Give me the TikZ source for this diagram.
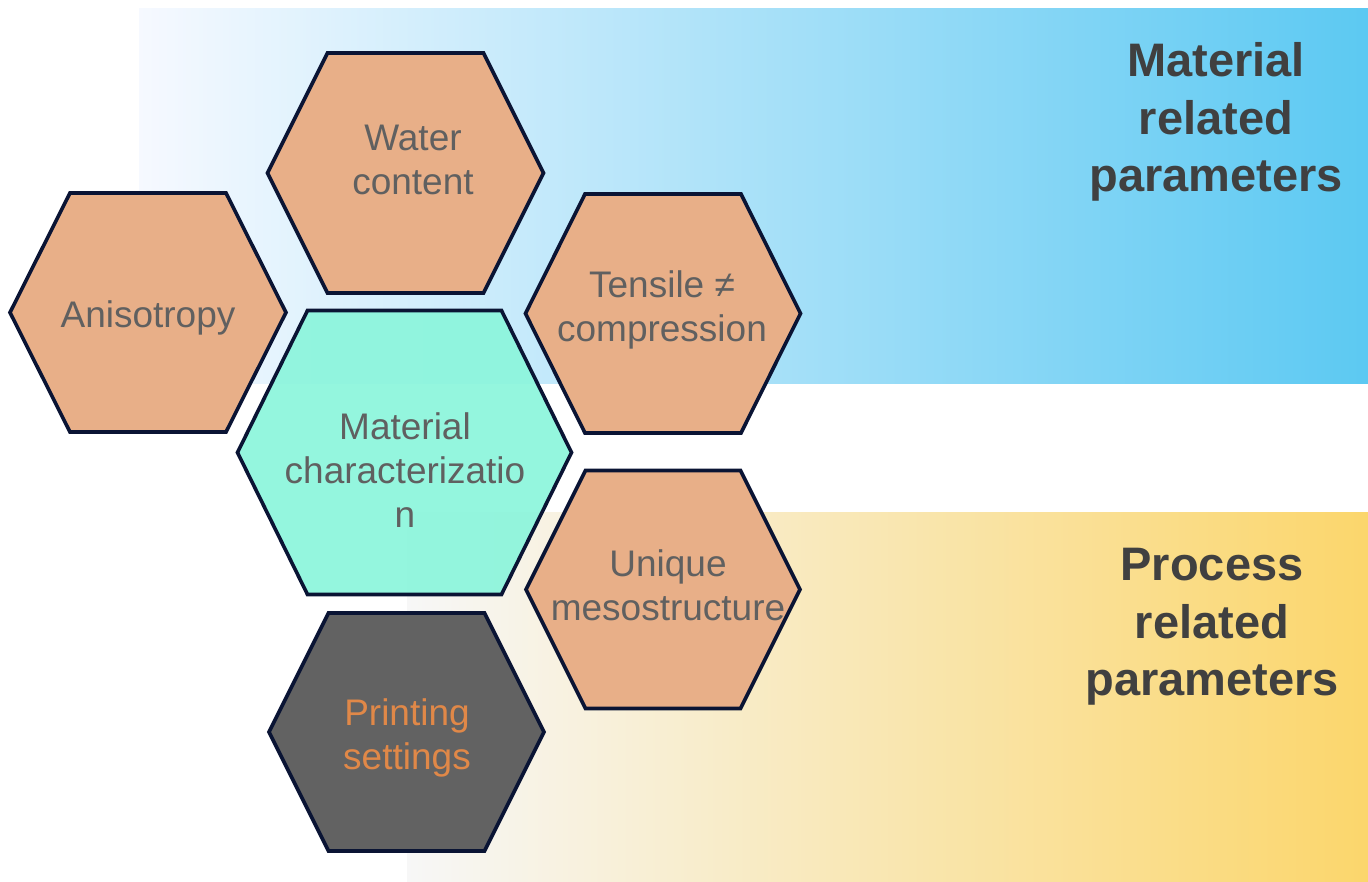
\documentclass[tikz,border=0pt]{standalone}
\usepackage{fontspec}
\setmainfont{Liberation Sans}
\definecolor{cellorange}{RGB}{232,175,136}
\definecolor{cellteal}{RGB}{140,245,220}
\definecolor{celldark}{RGB}{98,98,98}
\definecolor{cellline}{RGB}{10,20,52}
\definecolor{labelgray}{RGB}{96,96,96}
\definecolor{labeldark}{RGB}{64,64,64}
\definecolor{printorange}{RGB}{224,136,72}
\definecolor{bluefrom}{RGB}{246,249,255}
\definecolor{bluemid}{RGB}{196,233,250}
\definecolor{blueto}{RGB}{92,201,242}
\definecolor{yellowfrom}{RGB}{247,247,247}
\definecolor{yellowmid}{RGB}{248,236,198}
\definecolor{yellowto}{RGB}{251,214,108}
% #1 name, #2 cx, #3 cy, #4 half width, #5 half width of top edge, #6 half height, #7 style
\newcommand\hexcell[7]{%
  \draw[#7] (#2-#4,#3) -- (#2-#5,#3-#6) -- (#2+#5,#3-#6) -- (#2+#4,#3)
    -- (#2+#5,#3+#6) -- (#2-#5,#3+#6) -- cycle;
  \coordinate (#1) at (#2,#3);
}
\tikzset{
  cellbase/.style={draw=cellline, line width=3.6pt, line join=miter},
  orangecell/.style={cellbase, fill=cellorange},
  tealcell/.style={cellbase, fill=cellteal, fill opacity=0.93},
  darkcell/.style={cellbase, fill=celldark},
  celltext/.style={align=center, inner sep=0pt, text=labelgray,
    font=\fontsize{37}{44}\selectfont},
  sidetext/.style={align=center, inner sep=0pt, text=labeldark,
    font=\fontsize{47}{57.5}\selectfont\bfseries}
}
\begin{document}
\begin{tikzpicture}[x=1pt,y=-1pt]
\useasboundingbox (0,0) rectangle (1368,882);
% background bands
\shade[left color=bluefrom, middle color=bluemid, right color=blueto] (139,9) rectangle (1368,384);
\shade[left color=yellowfrom, middle color=yellowmid, right color=yellowto] (407,512) rectangle (1368,882);
% hexagonal cells
\hexcell{water}{405.5}{173}{138}{78}{120}{orangecell}
\hexcell{aniso}{148}{312.5}{138}{78}{119.5}{orangecell}
\hexcell{tensile}{663}{313.5}{137.5}{78}{119.5}{orangecell}
\hexcell{matchar}{404.5}{452.5}{167}{97}{142}{tealcell}
\hexcell{meso}{663}{589.5}{137}{77.5}{119}{orangecell}
\hexcell{printing}{406.5}{732}{137.5}{78}{119}{darkcell}
% cell labels
\node[celltext] (waterlbl) at (413,160) {Water\\content};
\node[celltext] (anisolbl) at (148,318) {Anisotropy};
\node[celltext] (tensilelbl) at (662,310) {Tensile ≠\\compression};
\node[celltext] (matcharlbl) at (405,470) {Material\\characterizatio\\n};
\node[celltext] (mesolbl) at (668,585) {Unique\\mesostructure};
\node[celltext, text=printorange] (printinglbl) at (407,738) {Printing\\settings};
% group labels
\node[sidetext] (material) at (1216,122) {Material\\related\\parameters};
\node[sidetext] (process) at (1212,627) {Process\\related\\parameters};
\end{tikzpicture}
\end{document}
